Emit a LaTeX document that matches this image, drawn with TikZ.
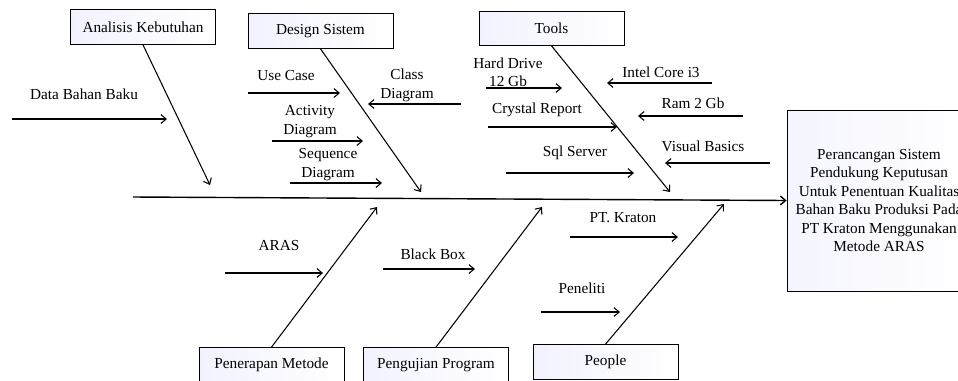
\documentclass[tikz,border=0pt]{standalone}
\usepackage{fontspec}
\setmainfont{Liberation Serif}
\usepackage{tikz}
\usetikzlibrary{positioning,arrows.meta}

\begin{document}
\begin{tikzpicture}[
  x=0.02cm, y=-0.02cm,
  every node/.style={font=\fontsize{8.7}{10.5}\selectfont, inner sep=1pt},
  catbox/.style={draw, thin, left color=blue!5, right color=white, minimum width=2.9cm, minimum height=0.7cm},
  effbox/.style={draw, thin, left color=blue!4, right color=white, minimum width=3.68cm, minimum height=3.62cm, align=center},
  rib/.style={line width=0.6pt, -{Straight Barb[length=3pt,width=5pt]}},
  cause/.style={line width=0.6pt, -{Straight Barb[length=3pt,width=5pt]}},
  spine/.style={line width=0.8pt, -{Straight Barb[length=3pt,width=5pt]}},
  lbl/.style={align=center}
]
\useasboundingbox (0,0) rectangle (958,380);

% category boxes
\node[catbox] (analisis) at (143,27) {Analisis Kebutuhan};
\node[catbox] (design) at (320.5,31) {Design Sistem};
\node[catbox, minimum height=0.68cm] (tools) at (551.5,28.5) {Tools};
\node[catbox] (penerapan) at (271.5,365) {Penerapan Metode};
\node[catbox] (pengujian) at (436,365) {Pengujian Program};
\node[catbox] (people) at (605.5,362) {People};

% effect
\node[effbox] (result) at (879,200.5) {Perancangan Sistem\\Pendukung Keputusan\\Untuk Penentuan Kualitas\\Bahan Baku Produksi Pada\\PT Kraton Menggunakan\\Metode ARAS};

% spine and ribs
\coordinate (tail) at (133,197);
\draw[spine] (tail) -- (result.west);
\coordinate (analisis-end) at (210,185);
\coordinate (design-end) at (421,192);
\coordinate (tools-end) at (670,192);
\coordinate (penerapan-end) at (377,207);
\coordinate (pengujian-end) at (542,207);
\coordinate (people-end) at (724,204);
\draw[rib] (analisis.south) -- (analisis-end);
\draw[rib] (design.south) -- (design-end);
\draw[rib] (tools.south) -- (tools-end);
\draw[rib] (penerapan.north) -- (penerapan-end);
\draw[rib] (pengujian.north) -- (pengujian-end);
\draw[rib] (people.north) -- (people-end);

% Analisis Kebutuhan
\coordinate (bahan-s) at (12,119); \coordinate (bahan-e) at (167,119);
\draw[cause] (bahan-s) -- (bahan-e);
\node[lbl] (bahan) at (84,94) {Data Bahan Baku};

% Design Sistem
\coordinate (usecase-s) at (248,93); \coordinate (usecase-e) at (340,93);
\draw[cause] (usecase-s) -- (usecase-e);
\node[lbl] (usecase) at (286,76) {Use Case};
\coordinate (class-s) at (461,104); \coordinate (class-e) at (368,104);
\draw[cause] (class-s) -- (class-e);
\node[lbl] (class) at (407,85.5) {Class\\Diagram};
\coordinate (activity-s) at (272,141); \coordinate (activity-e) at (363,141);
\draw[cause] (activity-s) -- (activity-e);
\node[lbl] (activity) at (310,121.5) {Activity\\Diagram};
\coordinate (sequence-s) at (290,183); \coordinate (sequence-e) at (382,183);
\draw[cause] (sequence-s) -- (sequence-e);
\node[lbl] (sequence) at (328,164.5) {Sequence\\Diagram};

% Tools
\coordinate (hdd-s) at (486,88); \coordinate (hdd-e) at (562,88);
\draw[cause] (hdd-s) -- (hdd-e);
\node[lbl] (hdd) at (508,72) {Hard Drive\\12 Gb};
\coordinate (cpu-s) at (712,83); \coordinate (cpu-e) at (607,83);
\draw[cause] (cpu-s) -- (cpu-e);
\node[lbl] (cpu) at (661,72) {Intel Core i3};
\coordinate (crystal-s) at (488,127); \coordinate (crystal-e) at (617,127);
\draw[cause] (crystal-s) -- (crystal-e);
\node[lbl] (crystal) at (537,110) {Crystal Report};
\coordinate (ram-s) at (743,116); \coordinate (ram-e) at (638,116);
\draw[cause] (ram-s) -- (ram-e);
\node[lbl] (ram) at (693,103) {Ram 2 Gb};
\coordinate (sql-s) at (506,173); \coordinate (sql-e) at (634,173);
\draw[cause] (sql-s) -- (sql-e);
\node[lbl] (sql) at (575,153) {Sql Server};
\coordinate (vb-s) at (770,163); \coordinate (vb-e) at (665,163);
\draw[cause] (vb-s) -- (vb-e);
\node[lbl] (vb) at (703,146) {Visual Basics};

% Penerapan Metode, Pengujian Program, People
\coordinate (aras-s) at (225,273); \coordinate (aras-e) at (323,273);
\draw[cause] (aras-s) -- (aras-e);
\node[lbl] (aras) at (279,246) {ARAS};
\coordinate (blackbox-s) at (383,269); \coordinate (blackbox-e) at (475,269);
\draw[cause] (blackbox-s) -- (blackbox-e);
\node[lbl] (blackbox) at (433,254) {Black Box};
\coordinate (kraton-s) at (570,237); \coordinate (kraton-e) at (678,237);
\draw[cause] (kraton-s) -- (kraton-e);
\node[lbl] (kraton) at (623,218) {PT. Kraton};
\coordinate (peneliti-s) at (541,312); \coordinate (peneliti-e) at (620,312);
\draw[cause] (peneliti-s) -- (peneliti-e);
\node[lbl] (peneliti) at (582,288) {Peneliti};
\end{tikzpicture}
\end{document}
